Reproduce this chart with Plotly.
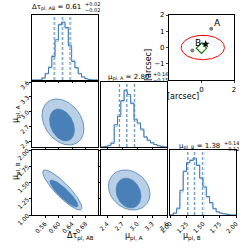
import numpy as np
import plotly.graph_objects as go

# ---------------- data ----------------
tau_range = [0.5215, 0.717]
muA_range = [2.28, 3.6]
muB_range = [1.0, 2.0]
n_bins = 20

tau_hist_dark = [0, 0, 0, 0.03, 0.10, 0.20, 0.38, 0.65, 0.90, 0.93, 0.85, 0.55, 0.30, 0.20, 0.10, 0.05, 0.02, 0.005, 0, 0]
tau_hist_light = [0, 0, 0, 0.04, 0.11, 0.22, 0.40, 0.62, 0.88, 0.95, 0.83, 0.57, 0.32, 0.19, 0.11, 0.05, 0.025, 0.01, 0, 0]
muA_hist_dark = [0, 0.01, 0.02, 0.06, 0.36, 0.49, 0.75, 0.91, 0.85, 0.70, 0.44, 0.39, 0.29, 0.16, 0.11, 0.07, 0.04, 0.02, 0.01, 0]
muA_hist_light = [0, 0.01, 0.03, 0.08, 0.33, 0.52, 0.73, 0.93, 0.82, 0.72, 0.46, 0.37, 0.27, 0.17, 0.10, 0.06, 0.04, 0.02, 0.01, 0]
muB_hist_dark = [0, 0.03, 0.10, 0.40, 0.70, 0.85, 0.88, 0.92, 0.80, 0.60, 0.45, 0.30, 0.20, 0.10, 0.05, 0.03, 0.02, 0.01, 0, 0]
muB_hist_light = [0, 0.03, 0.12, 0.37, 0.72, 0.83, 0.90, 0.89, 0.82, 0.58, 0.47, 0.28, 0.19, 0.11, 0.05, 0.03, 0.02, 0.01, 0, 0]

tau_q_dark = [0.587, 0.611, 0.634]
tau_q_light = [0.590, 0.614, 0.637]
muA_q_dark = [2.646, 2.794, 2.946]
muA_q_light = [2.655, 2.805, 2.960]
muB_q_dark = [1.268, 1.368, 1.49]
muB_q_light = [1.275, 1.380, 1.515]

# 2D contours: center x, center y, half-extent x, half-extent y, correlation
tauA_outer = [0.6133, 2.788, 0.062, 0.467, -0.30]
tauA_inner = [0.6104, 2.727, 0.037, 0.325, -0.30]
tauB_outer = [0.6113, 1.385, 0.058, 0.308, -0.88]
tauB_inner = [0.6160, 1.331, 0.0415, 0.208, -0.88]
AB_outer = [2.844, 1.385, 0.416, 0.308, -0.20]
AB_inner = [2.830, 1.338, 0.25, 0.23, -0.20]

# image plane
img_ellipse = [0.08, 0.0, 1.33, 0.75]
img_A = [0.6, 1.15]
img_B = [-0.56, -0.19]
img_star = [0.26, 0.21]
img_diamond = [0.0, -0.04]

titles = [("Δτ<sub>pl, AB</sub> = 0.61", "+0.02", "−0.02"),
          ("μ<sub>pl, A</sub> = 2.80", "+0.16", "−0.15"),
          ("μ<sub>pl, B</sub> = 1.38", "+0.14", "−0.12")]
tau_ticks = [0.56, 0.60, 0.64, 0.68]
muA_ticks = [2.4, 2.7, 3.0, 3.3, 3.6]
muB_ticks = [1.00, 1.25, 1.50, 1.75, 2.00]

# ---------------- style ----------------
W = H = 249
DARK = "#3b78b4"
LIGHT = "#a7c7e7"
FILL_OUT = "#b8cfe6"
FILL_IN = "#4a80b8"
FONT = "DejaVu Sans"

cols = [(32, 98), (101, 167), (170, 236)]
rows = [(15, 80), (82, 147), (150, 215)]


def xd(p):
    return p[0] / W, p[1] / W


def yd(p):
    return 1 - p[1] / H, 1 - p[0] / H


fig = go.Figure()
layout = {}
ranges = [tau_range, muA_range, muB_range]
ticks = [tau_ticks, muA_ticks, muB_ticks]
tickfmt = [".2f", ".1f", ".2f"]

axis_id = 0


def new_axes(r, c, xr, yr, xticks, xlab, yticks, ylab, xfmt, yfmt):
    global axis_id
    axis_id += 1
    sfx = "" if axis_id == 1 else str(axis_id)
    xa = dict(domain=xd(cols[c]), range=xr, anchor="y" + sfx, showgrid=False, zeroline=False,
              showline=True, mirror=True, linecolor="black", linewidth=1.2, automargin=False,
              ticks="outside" if xticks else "", ticklen=2, tickcolor="black",
              tickvals=xticks or [], showticklabels=xlab, tickangle=-45, tickformat=xfmt,
              tickfont=dict(size=6, family=FONT, color="black"))
    ya = dict(domain=yd(rows[r]), range=yr, anchor="x" + sfx, showgrid=False, zeroline=False,
              showline=True, mirror=True, linecolor="black", linewidth=1.2, automargin=False,
              ticks="outside" if yticks else "", ticklen=2, tickcolor="black",
              tickvals=yticks or [], showticklabels=ylab, tickangle=-45, tickformat=yfmt,
              tickfont=dict(size=6, family=FONT, color="black"))
    layout["xaxis" + sfx] = xa
    layout["yaxis" + sfx] = ya
    return "x" + sfx, "y" + sfx


def add_hist(xa, ya, rng, dark, light, qd, ql):
    edges = np.linspace(rng[0], rng[1], n_bins + 1)
    for vals, col in ((light, LIGHT), (dark, DARK)):
        fig.add_trace(go.Scatter(x=edges, y=list(vals) + [vals[-1]], mode="lines",
                                 line=dict(shape="hv", color=col, width=1), xaxis=xa, yaxis=ya,
                                 hoverinfo="skip", showlegend=False))
    for qs, col in ((ql, LIGHT), (qd, DARK)):
        for q in qs:
            fig.add_trace(go.Scatter(x=[q, q], y=[0, 1.05], mode="lines",
                                     line=dict(color=col, width=0.8, dash="3px,2px"),
                                     xaxis=xa, yaxis=ya, hoverinfo="skip", showlegend=False))


def ellipse(p):
    t = np.linspace(0, 2 * np.pi, 120)
    cx, cy, ax, ay, rho = p
    x = cx + ax * np.cos(t)
    y = cy + ay * (rho * np.cos(t) + np.sqrt(1 - rho ** 2) * np.sin(t))
    return x, y


def add_contour(xa, ya, outer, inner):
    x, y = ellipse(outer)
    fig.add_trace(go.Scatter(x=x, y=y, mode="lines", fill="toself", fillcolor=FILL_OUT,
                             line=dict(color=FILL_IN, width=0.8), xaxis=xa, yaxis=ya,
                             hoverinfo="skip", showlegend=False))
    x, y = ellipse(inner)
    fig.add_trace(go.Scatter(x=x, y=y, mode="lines", fill="toself", fillcolor=FILL_IN,
                             line=dict(color=FILL_IN, width=0.6), xaxis=xa, yaxis=ya,
                             hoverinfo="skip", showlegend=False))


hists = [(tau_hist_dark, tau_hist_light, tau_q_dark, tau_q_light),
         (muA_hist_dark, muA_hist_light, muA_q_dark, muA_q_light),
         (muB_hist_dark, muB_hist_light, muB_q_dark, muB_q_light)]
contours = {(1, 0): (tauA_outer, tauA_inner), (2, 0): (tauB_outer, tauB_inner),
            (2, 1): (AB_outer, AB_inner)}

for r in range(3):
    for c in range(r + 1):
        xlab = (r == 2)
        if r == c:
            xa, ya = new_axes(r, c, ranges[c], [0, 1.05], ticks[c], xlab, None, False,
                              tickfmt[c], None)
            add_hist(xa, ya, ranges[c], *hists[c])
        else:
            xa, ya = new_axes(r, c, ranges[c], ranges[r], ticks[c], xlab, ticks[r], c == 0,
                              tickfmt[c], tickfmt[r])
            add_contour(xa, ya, *contours[(r, c)])

# image-plane panel
axis_id += 1
sfx = str(axis_id)
layout["xaxis" + sfx] = dict(domain=[169 / W, 234 / W], range=[-2, 2], anchor="y" + sfx,
                             showgrid=False, zeroline=False, showline=True, mirror=True, automargin=False,
                             linecolor="black", linewidth=1.2, ticks="outside", ticklen=2,
                             tickvals=[0, 2], tickfont=dict(size=7, family=FONT, color="black"))
layout["yaxis" + sfx] = dict(domain=[1 - 80 / H, 1 - 15 / H], range=[-2, 2], anchor="x" + sfx,
                             showgrid=False, zeroline=False, showline=True, mirror=True, automargin=False,
                             linecolor="black", linewidth=1.2, ticks="outside", ticklen=2,
                             tickvals=[-1, 0, 1, 2], ticktext=["−1", "0", "1", "2"],
                             tickfont=dict(size=7, family=FONT, color="black"))
xa, ya = "x" + sfx, "y" + sfx
t = np.linspace(0, 2 * np.pi, 120)
fig.add_trace(go.Scatter(x=img_ellipse[0] + img_ellipse[2] * np.cos(t),
                         y=img_ellipse[1] + img_ellipse[3] * np.sin(t), mode="lines",
                         line=dict(color="red", width=1), xaxis=xa, yaxis=ya, showlegend=False))
fig.add_trace(go.Scatter(x=[img_A[0], img_B[0]], y=[img_A[1], img_B[1]], mode="markers",
                         marker=dict(color="gray", size=4), xaxis=xa, yaxis=ya, showlegend=False))
fig.add_trace(go.Scatter(x=[img_diamond[0]], y=[img_diamond[1]], mode="markers",
                         marker=dict(symbol="diamond-open", color="green", size=8, line=dict(width=1.2)),
                         xaxis=xa, yaxis=ya, showlegend=False))
fig.add_trace(go.Scatter(x=[img_star[0]], y=[img_star[1]], mode="markers",
                         marker=dict(symbol="star", color="black", size=6),
                         xaxis=xa, yaxis=ya, showlegend=False))

ann = []
ann.append(dict(x=img_A[0] + 0.05, y=img_A[1] - 0.1, xref=xa, yref=ya, text="A", showarrow=False,
                xanchor="left", yanchor="bottom", font=dict(size=9, family=FONT, color="black")))
ann.append(dict(x=img_B[0] + 0.05, y=img_B[1] + 0.02, xref=xa, yref=ya, text="B", showarrow=False,
                xanchor="left", yanchor="bottom", font=dict(size=9, family=FONT, color="black")))
ann.append(dict(x=201 / W, y=1 - 97 / H, xref="paper", yref="paper", text="[arcsec]", showarrow=False,
                font=dict(size=8, family=FONT, color="black")))
ann.append(dict(x=148 / W, y=1 - 47 / H, xref="paper", yref="paper", text="[arcsec]", showarrow=False,
                textangle=-90, font=dict(size=8, family=FONT, color="black")))

# titles
title_pos = [(83, 7), (151, 77), (222, 146)]
for (main, sup, sub), (px, py) in zip(titles, title_pos):
    ann.append(dict(x=px / W, y=1 - py / H, xref="paper", yref="paper", text=main, showarrow=False,
                    xanchor="right", yanchor="middle", font=dict(size=7, family=FONT, color="black")))
    ann.append(dict(x=px / W, y=1 - (py - 3) / H, xref="paper", yref="paper", text=sup, showarrow=False,
                    xanchor="left", yanchor="middle", font=dict(size=5, family=FONT, color="black")))
    ann.append(dict(x=px / W, y=1 - (py + 3) / H, xref="paper", yref="paper", text=sub, showarrow=False,
                    xanchor="left", yanchor="middle", font=dict(size=5, family=FONT, color="black")))

# axis labels
xlabels = ["Δτ<sub>pl, AB</sub>", "μ<sub>pl, A</sub>", "μ<sub>pl, B</sub>"]
for c, lab in enumerate(xlabels):
    ann.append(dict(x=(cols[c][0] + cols[c][1]) / 2 / W, y=1 - 244 / H, xref="paper", yref="paper",
                    text=lab, showarrow=False, font=dict(size=8, family=FONT, color="black")))
for r, lab in ((1, "μ<sub>pl, A</sub>"), (2, "μ<sub>pl, B</sub>")):
    ann.append(dict(x=9 / W, y=1 - (rows[r][0] + rows[r][1]) / 2 / H, xref="paper", yref="paper",
                    text=lab, showarrow=False, textangle=-90,
                    font=dict(size=8, family=FONT, color="black")))

layout.update(dict(width=W, height=H, margin=dict(l=0, r=0, t=0, b=0),
                   paper_bgcolor="white", plot_bgcolor="white", showlegend=False,
                   annotations=ann, font=dict(family=FONT)))
fig.update_layout(**layout)
fig.write_html("out.html", config={"displayModeBar": False},
               post_script="document.body.style.margin='0';document.body.style.padding='0';")
